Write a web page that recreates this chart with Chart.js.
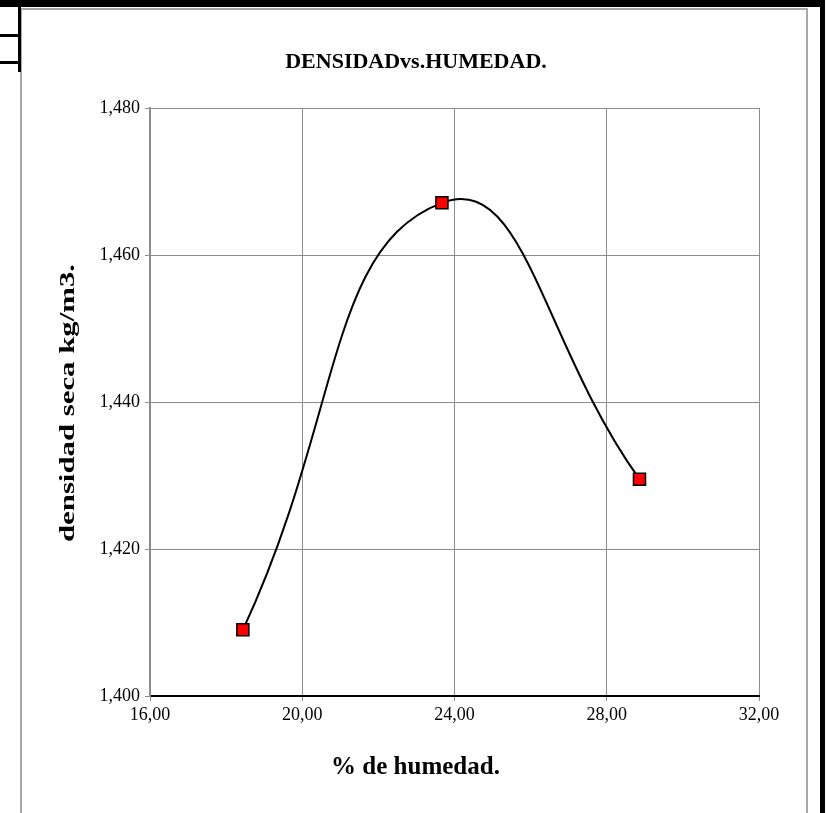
<!DOCTYPE html>
<html>
<head>
<meta charset="utf-8">
<script src="https://cdn.jsdelivr.net/npm/chart.js@4/dist/chart.umd.min.js"></script>
<style>
  html, body { margin: 0; padding: 0; background: #fff; }
  body { width: 827px; height: 813px; position: relative; overflow: hidden; }
  .blk { position: absolute; background: #000; }
  #frame { position: absolute; left: 20px; top: 8px; width: 784px; height: 830px;
           border: 2px solid #a8a8a8; border-bottom: none; }
  #wrap { position: absolute; left: 0; top: 0; width: 827px; height: 813px; }
</style>
</head>
<body>
<div id="frame"></div>
<div class="blk" style="left:0;top:0;width:821px;height:7px"></div>
<div class="blk" style="left:820px;top:0;width:5px;height:813px"></div>
<div class="blk" style="left:18px;top:0;width:3px;height:72px"></div>
<div class="blk" style="left:0;top:34px;width:18px;height:3px"></div>
<div class="blk" style="left:0;top:61px;width:18px;height:3px"></div>
<div id="wrap"><canvas id="c" width="827" height="813"></canvas></div>
<script>
// lecturas del ensayo (humedad %, densidad seca)
const humedad = [18.44, 23.67, 28.86];
const densidad = [1.4090, 1.4671, 1.4295];
const xTicks = [16, 20, 24, 28, 32];
const yTicks = [1.400, 1.420, 1.440, 1.460, 1.480];

const TITLE = 'DENSIDADvs.HUMEDAD.';
const X_TITLE = '% de humedad.';
const Y_TITLE = 'densidad seca kg/m3.';

const GRID = '#8c8c8c';
const SERIF = "'Liberation Serif', 'Times New Roman', serif";

const points = humedad.map((x, i) => ({ x, y: densidad[i] }));

// titulos de ejes a mano: excel los centra en todo el grafico
// y el vertical sale estirado a lo largo
const axisTitles = {
  id: 'axisTitles',
  afterDraw(chart) {
    const { ctx, chartArea, width } = chart;
    ctx.save();
    ctx.fillStyle = '#000';
    ctx.textAlign = 'center';
    ctx.textBaseline = 'middle';
    ctx.font = 'bold 25px ' + SERIF;
    ctx.fillText(X_TITLE, width / 2 + 2, chartArea.bottom + 72);
    ctx.font = 'bold 22px ' + SERIF;
    ctx.translate(68, (chartArea.top + chartArea.bottom) / 2 + 1);
    ctx.rotate(-Math.PI / 2);
    ctx.scale(1.4, 1);
    ctx.fillText(Y_TITLE, 0, 0);
    ctx.restore();
  }
};

new Chart(document.getElementById('c').getContext('2d'), {
  type: 'scatter',
  data: {
    datasets: [{
      data: points,
      yAxisID: 'y',
      showLine: true,
      tension: 0.5,
      borderColor: '#000',
      borderWidth: 2,
      pointStyle: 'rect',
      pointRadius: 8.5,
      pointBackgroundColor: '#ff0000',
      pointBorderColor: '#000',
      pointBorderWidth: 1.5,
      clip: false
    }]
  },
  plugins: [axisTitles],
  options: {
    responsive: false,
    animation: false,
    layout: { padding: { left: 5, right: 0, top: 0, bottom: 33 } },
    plugins: {
      legend: { display: false },
      tooltip: { enabled: false },
      title: {
        display: true,
        text: TITLE,
        color: '#000',
        font: { family: SERIF, size: 22, weight: 'bold', lineHeight: 1.2 },
        padding: { top: 49, bottom: 32.6 }
      }
    },
    scales: {
      x: {
        type: 'linear',
        min: 16, max: 32,
        afterBuildTicks: s => { s.ticks = xTicks.map(v => ({ value: v })); },
        afterFit: s => { s.height = 84; },
        grid: { color: GRID, tickColor: GRID, tickLength: 5 },
        border: { color: '#000', width: 2 },
        ticks: {
          color: '#000', padding: 3,
          font: { family: SERIF, size: 18 },
          callback: v => v.toFixed(2).replace('.', ',')
        }
      },
      y: {
        type: 'linear',
        position: 'left',
        min: 1.4, max: 1.48,
        afterBuildTicks: s => { s.ticks = yTicks.map(v => ({ value: v })); },
        afterFit: s => { s.width = 145; },
        grid: { color: GRID, tickColor: GRID, tickLength: 5 },
        border: { color: GRID, width: 2 },
        ticks: {
          color: '#000', padding: 5,
          font: { family: SERIF, size: 18 },
          callback: v => v.toFixed(3).replace('.', ',')
        }
      },
      y2: {
        type: 'linear',
        position: 'right',
        min: 0, max: 1,
        afterFit: s => { s.width = 68; },
        grid: { display: false },
        border: { display: false },
        ticks: { display: false }
      }
    }
  }
});
</script>
</body>
</html>
